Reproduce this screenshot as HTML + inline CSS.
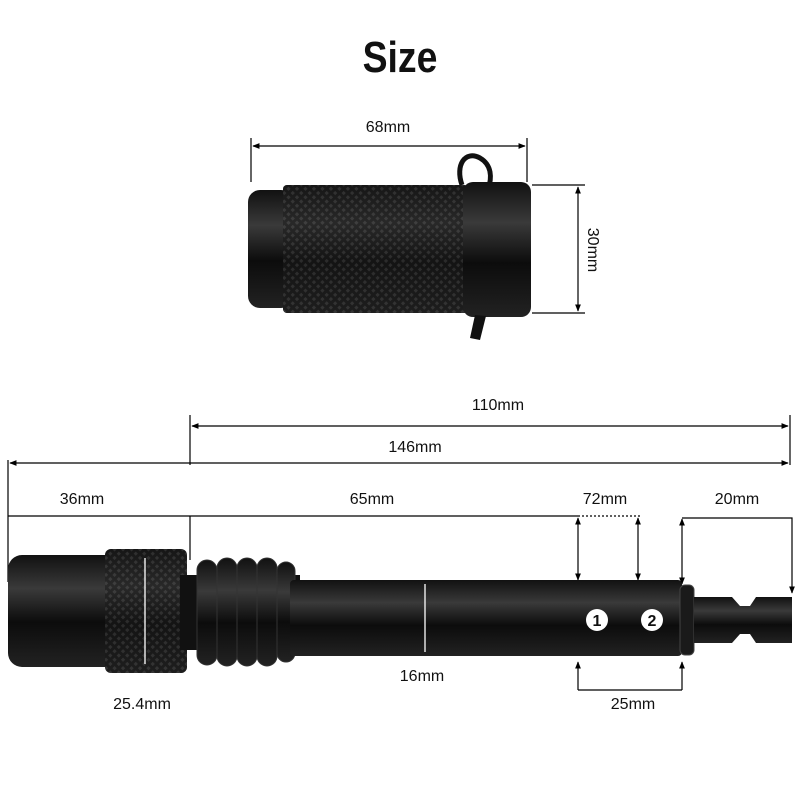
<!DOCTYPE html>
<html><head><style>
html,body{margin:0;padding:0;background:#fff;}
svg{display:block;}
text{font-family:"Liberation Sans",sans-serif;fill:#111;}
</style></head><body>
<svg width="800" height="800" viewBox="0 0 800 800" xmlns="http://www.w3.org/2000/svg">
<defs>
<marker id="a" viewBox="0 0 10 10" refX="9" refY="5" markerWidth="6" markerHeight="6" orient="auto-start-reverse"><path d="M0,1 L10,5 L0,9 z" fill="#000"/></marker>
<pattern id="k" width="6" height="6" patternUnits="userSpaceOnUse" patternTransform="rotate(45)"><rect width="6" height="6" fill="#1a1a1a"/><rect width="3" height="3" fill="#444"/></pattern>
<linearGradient id="g" x1="0" y1="0" x2="0" y2="1"><stop offset="0" stop-color="#111"/><stop offset="0.3" stop-color="#3a3a3a"/><stop offset="0.6" stop-color="#0c0c0c"/><stop offset="1" stop-color="#222"/></linearGradient>
</defs>
<text x="400" y="72" text-anchor="middle" style="font-size:44px;font-weight:bold;font-stretch:condensed" transform="translate(400 0) scale(0.85 1) translate(-400 0)">Size</text>

<!-- top grip -->
<g stroke="#000" stroke-width="1.2" fill="none">
<line x1="251" y1="138" x2="251" y2="182"/><line x1="527" y1="138" x2="527" y2="182"/>
<line x1="253" y1="146" x2="525" y2="146" marker-start="url(#a)" marker-end="url(#a)"/>
<line x1="532" y1="185" x2="585" y2="185"/><line x1="532" y1="313" x2="585" y2="313"/>
<line x1="578" y1="187" x2="578" y2="311" marker-start="url(#a)" marker-end="url(#a)"/>
</g>
<text x="388" y="132" text-anchor="middle" font-size="16">68mm</text>
<text x="0" y="0" font-size="16" text-anchor="middle" transform="translate(588 250) rotate(90)">30mm</text>
<path d="M462,185 C455,165 465,150 480,158 C492,165 492,178 488,190" stroke="#111" stroke-width="5" fill="none"/>
<rect x="248" y="190" width="45" height="118" rx="12" fill="url(#g)"/>
<rect x="283" y="185" width="185" height="128" rx="4" fill="url(#k)"/>
<rect x="283" y="185" width="185" height="128" rx="4" fill="url(#g)" opacity="0.45"/>
<rect x="463" y="182" width="68" height="135" rx="10" fill="url(#g)"/>
<path d="M475,315 L470,338 L480,340 L486,316z" fill="#111"/>

<!-- bottom dims -->
<g stroke="#000" stroke-width="1.2" fill="none">
<line x1="190" y1="415" x2="190" y2="465"/><line x1="790" y1="415" x2="790" y2="465"/>
<line x1="192" y1="426" x2="788" y2="426" marker-start="url(#a)" marker-end="url(#a)"/>
<line x1="8" y1="460" x2="8" y2="582"/>
<line x1="10" y1="463" x2="788" y2="463" marker-start="url(#a)" marker-end="url(#a)"/>
<line x1="8" y1="516" x2="578" y2="516"/>
<line x1="578" y1="516" x2="640" y2="516" stroke-dasharray="2,2"/>
<line x1="190" y1="516" x2="190" y2="560"/>
<line x1="578" y1="518" x2="578" y2="580" marker-start="url(#a)" marker-end="url(#a)"/>
<line x1="638" y1="518" x2="638" y2="580" marker-start="url(#a)" marker-end="url(#a)"/>
<line x1="682" y1="519" x2="682" y2="584" marker-start="url(#a)" marker-end="url(#a)"/>
<polyline points="682,518 792,518 792,593" marker-end="url(#a)"/>
<line x1="578" y1="662" x2="578" y2="690" marker-start="url(#a)"/>
<line x1="682" y1="662" x2="682" y2="690" marker-start="url(#a)"/>
<line x1="578" y1="690" x2="682" y2="690"/>
</g>
<text x="498" y="410" text-anchor="middle" font-size="16">110mm</text>
<text x="415" y="452" text-anchor="middle" font-size="16">146mm</text>
<text x="82" y="504" text-anchor="middle" font-size="16">36mm</text>
<text x="372" y="504" text-anchor="middle" font-size="16">65mm</text>
<text x="605" y="504" text-anchor="middle" font-size="16">72mm</text>
<text x="737" y="504" text-anchor="middle" font-size="16">20mm</text>
<text x="142" y="709" text-anchor="middle" font-size="16">25.4mm</text>
<text x="422" y="681" text-anchor="middle" font-size="16">16mm</text>
<text x="633" y="709" text-anchor="middle" font-size="16">25mm</text>

<!-- bottom body -->
<rect x="8" y="555" width="115" height="112" rx="14" fill="url(#g)"/>
<rect x="105" y="549" width="82" height="124" rx="6" fill="url(#k)"/>
<rect x="105" y="549" width="82" height="124" rx="6" fill="url(#g)" opacity="0.45"/>
<rect x="180" y="575" width="120" height="75" fill="#111"/>
<g fill="url(#g)" stroke="#333" stroke-width="1">
<rect x="197" y="560" width="20" height="105" rx="10"/>
<rect x="217" y="558" width="20" height="108" rx="10"/>
<rect x="237" y="558" width="20" height="108" rx="10"/>
<rect x="257" y="558" width="20" height="108" rx="10"/>
<rect x="277" y="562" width="18" height="100" rx="9"/>
</g>
<rect x="290" y="580" width="392" height="76" rx="4" fill="url(#g)"/>
<rect x="680" y="585" width="14" height="70" rx="5" fill="#1a1a1a" stroke="#444"/>
<path d="M694,597 L732,597 L740,606 L750,606 L756,597 L792,597 L792,643 L756,643 L750,634 L740,634 L732,643 L694,643z" fill="url(#g)"/>
<line x1="145" y1="558" x2="145" y2="664" stroke="#fff" stroke-width="1.3"/>
<line x1="425" y1="584" x2="425" y2="652" stroke="#fff" stroke-width="1.3"/>
<circle cx="597" cy="620" r="11" fill="#fff"/><text x="597" y="626" text-anchor="middle" font-size="16" font-weight="bold">1</text>
<circle cx="652" cy="620" r="11" fill="#fff"/><text x="652" y="626" text-anchor="middle" font-size="16" font-weight="bold">2</text>
</svg>
</body></html>
